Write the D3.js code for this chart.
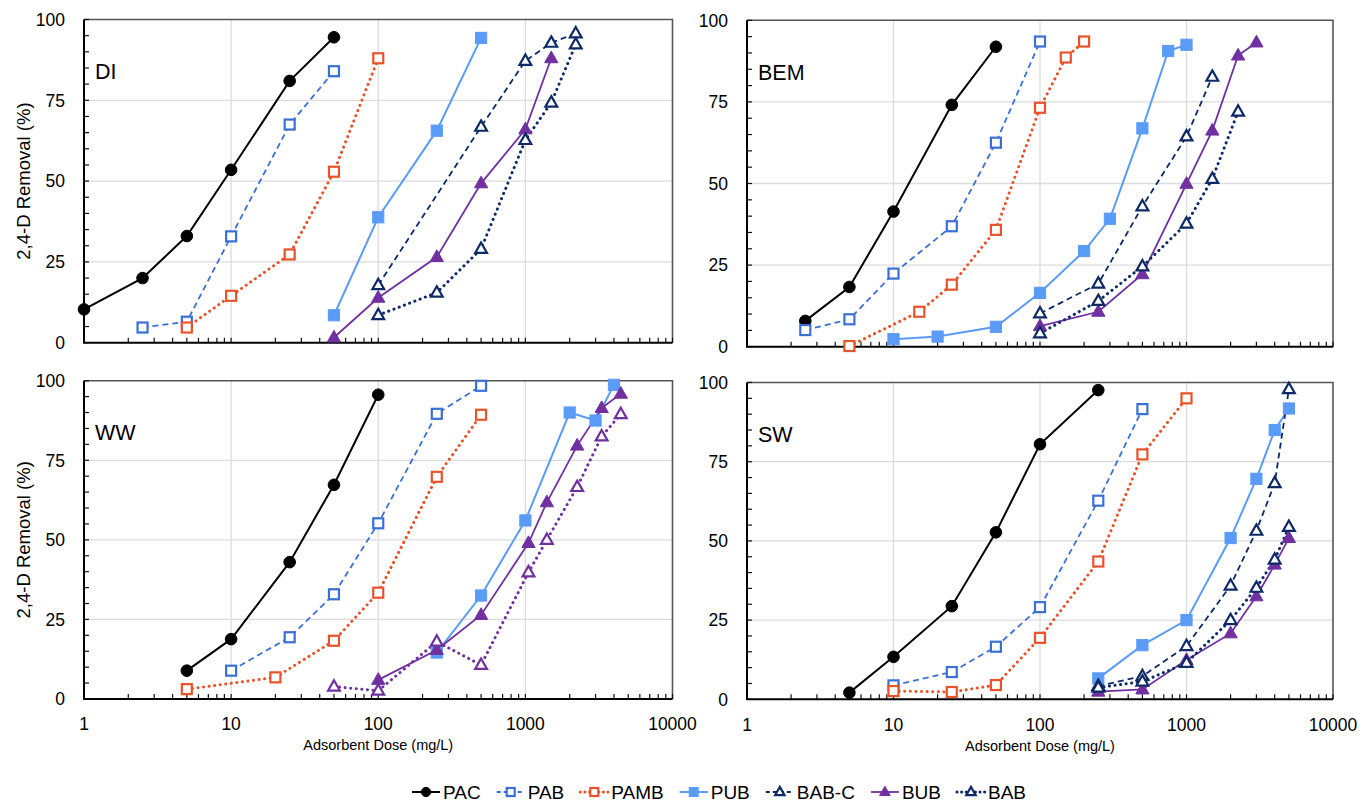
<!DOCTYPE html>
<html>
<head>
<meta charset="utf-8">
<script src="https://cdn.jsdelivr.net/npm/d3@7"></script>
<style>
  html, body { margin: 0; padding: 0; background: #fff; }
  svg { display: block; font-family: "Liberation Sans", Arial, Helvetica, sans-serif; }
</style>
</head>
<body>
<svg id="chart" width="1362" height="803"></svg>
<script>
// ---------------- DATA ----------------
const seriesNames = ["PAC", "PAB", "PAMB", "PUB", "BAB-C", "BUB", "BAB"];
const panelNames = ["DI", "BEM", "WW", "SW"];
const xTicks = [1, 10, 100, 1000, 10000];
const xTickLabels = ["1", "10", "100", "1000", "10000"];
const yTicks = [0, 25, 50, 75, 100];
const yTickLabels = ["0", "25", "50", "75", "100"];

// [dose mg/L, removal %]
const DI_PAC  = [[1,10.3],[2.5,20],[5,33],[10,53.5],[25,81],[50,94.5]];
const DI_PAB  = [[2.5,4.7],[5,6.5],[10,32.9],[25,67.5],[50,84]];
const DI_PAMB = [[5,4.7],[10,14.5],[25,27.3],[50,52.9],[100,88]];
const DI_PUB  = [[50,8.5],[100,38.8],[250,65.6],[500,94.3]];
const DI_BABC = [[100,17.8],[500,66.8],[1000,87.2],[1500,92.8],[2200,95.7]];
const DI_BUB  = [[50,1.6],[100,13.9],[250,26.5],[500,49.3],[1000,66],[1500,88]];
const DI_BAB  = [[100,8.5],[250,15.5],[500,29],[1000,62.7],[1500,74.3],[2200,92.3]];

const BEM_PAC  = [[2.5,7.9],[5,18.3],[10,41.4],[25,74.1],[50,91.9]];
const BEM_PAB  = [[2.5,5.1],[5,8.4],[10,22.4],[25,36.9],[50,62.5],[100,93.5]];
const BEM_PAMB = [[5,0.2],[15,10.7],[25,19],[50,35.8],[100,73.2],[150,88.6],[200,93.5]];
const BEM_PUB  = [[10,2.3],[20,3.1],[50,6.1],[100,16.5],[200,29.3],[300,39.2],[500,66.9],[750,90.6],[1000,92.5]];
const BEM_BABC = [[100,10.2],[250,19.3],[500,43],[1000,64.4],[1500,82.7]];
const BEM_BUB  = [[100,6.3],[250,10.7],[500,22.2],[1000,49.9],[1500,66.2],[2250,89.2],[3000,93.2]];
const BEM_BAB  = [[100,4.1],[250,14],[500,24.6],[1000,37.7],[1500,51.4],[2250,72]];

const WW_PAC  = [[5,8.9],[10,18.8],[25,43],[50,67.3],[100,95.6]];
const WW_PAB  = [[10,8.9],[25,19.4],[50,32.9],[100,55.2],[250,89.6],[500,98.4]];
const WW_PAMB = [[5,3.1],[20,6.8],[50,18.3],[100,33.4],[250,69.8],[500,89.3]];
const WW_PUB  = [[250,14.6],[500,32.5],[1000,56.1],[2000,90],[3000,87.5],[4000,98.7]];
const WW_BUB  = [[100,6],[250,15.4],[500,26.4],[1050,49],[1400,61.8],[2250,79.6],[3300,91.4],[4450,95.9]];
const WW_BAB  = [[50,3.9],[100,2.6],[250,18],[500,10.7],[1050,39.8],[1400,50],[2250,66.6],[3300,82.5],[4450,89.5]];

const SW_PAC  = [[5,2.1],[10,13.4],[25,29.4],[50,52.7],[100,80.5],[250,97.6]];
const SW_PAB  = [[10,4.4],[25,8.6],[50,16.6],[100,29.1],[250,62.7],[500,91.6]];
const SW_PAMB = [[10,2.6],[25,2.3],[50,4.5],[100,19.4],[250,43.5],[500,77.3],[1000,95]];
const SW_PUB  = [[250,6.6],[500,17.1],[1000,25],[2000,50.9],[3000,69.6],[4000,85],[5000,91.8]];
const SW_BABC = [[250,4.2],[500,7.3],[1000,16.8],[2000,35.9],[3000,53.2],[4000,68.2],[5000,97.9]];
const SW_BUB  = [[250,2.4],[500,3.1],[1000,12.4],[2000,20.8],[3000,32.5],[4000,42.5],[5000,50.9]];
const SW_BAB  = [[250,3.7],[500,5.6],[1000,11.5],[2000,25],[3000,35.2],[4000,44.1],[5000,54.4]];

const panelData = {
  DI:  {"PAC": DI_PAC, "PAB": DI_PAB, "PAMB": DI_PAMB, "PUB": DI_PUB, "BAB-C": DI_BABC, "BUB": DI_BUB, "BAB": DI_BAB},
  BEM: {"PAC": BEM_PAC, "PAB": BEM_PAB, "PAMB": BEM_PAMB, "PUB": BEM_PUB, "BAB-C": BEM_BABC, "BUB": BEM_BUB, "BAB": BEM_BAB},
  WW:  {"PAC": WW_PAC, "PAB": WW_PAB, "PAMB": WW_PAMB, "PUB": WW_PUB, "BUB": WW_BUB, "BAB": WW_BAB},
  SW:  {"PAC": SW_PAC, "PAB": SW_PAB, "PAMB": SW_PAMB, "PUB": SW_PUB, "BAB-C": SW_BABC, "BUB": SW_BUB, "BAB": SW_BAB}
};

// ---------------- STYLES ----------------
const NAVY = "#0d2a66", PURPLE = "#7030a0";
const style = {
  "PAC":   {color: "#000000", dash: null,  width: 2.0, marker: "circle",   fill: true},
  "PAB":   {color: "#3a70d6", dash: "6,4", width: 1.8, marker: "square",   fill: false},
  "PAMB":  {color: "#e8532a", dash: "0.1,5.5", width: 3.0, cap: "round", marker: "square", fill: false},
  "PUB":   {color: "#5b9bf8", dash: null,  width: 2.0, marker: "square",   fill: true},
  "BAB-C": {color: NAVY,      dash: "6,4", width: 1.8, marker: "triangle", fill: false},
  "BUB":   {color: PURPLE,    dash: null,  width: 1.8, marker: "triangle", fill: true},
  "BAB":   {color: NAVY,      dash: "0.1,5.5", width: 3.0, cap: "round", marker: "triangle", fill: false}
};
const colorOverride = { WW: { "BAB": PURPLE } };

// panel boxes (layout)
const boxes = {
  DI:  {x0: 84,  x1: 672.5, y0: 19.5, y1: 342.7, xlab: false, ylab: true},
  BEM: {x0: 747, x1: 1333,  y0: 20.3, y1: 346.7, xlab: false, ylab: false},
  WW:  {x0: 84,  x1: 672.5, y0: 380.7, y1: 699,  xlab: true,  ylab: true},
  SW:  {x0: 747, x1: 1333,  y0: 382.5, y1: 699.3, xlab: true, ylab: false}
};

const svg = d3.select("#chart");

function drawMarker(g, type, x, y, color, filled, scaleF) {
  const s = scaleF || 1;
  if (type === "circle") {
    g.append("circle").attr("cx", x).attr("cy", y).attr("r", 5.8 * s)
      .attr("fill", color).attr("stroke", color).attr("stroke-width", 1);
  } else if (type === "square") {
    const h = filled ? 5.6 * s : 5.0 * s;
    g.append("rect").attr("x", x - h).attr("y", y - h).attr("width", 2 * h).attr("height", 2 * h)
      .attr("fill", filled ? color : "#fff").attr("stroke", color).attr("stroke-width", filled ? 1 : 2.2);
  } else {
    const r = filled ? 7.2 * s : 6.4 * s;
    const pts = [[x, y - r], [x + r * 0.92, y + r * 0.62], [x - r * 0.92, y + r * 0.62]];
    g.append("path").attr("d", "M" + pts.map(p => p.join(",")).join("L") + "Z")
      .attr("fill", filled ? color : "#fff").attr("stroke", color)
      .attr("stroke-width", filled ? 1 : 2.2).attr("stroke-linejoin", "miter");
  }
}

panelNames.forEach(pn => {
  const b = boxes[pn];
  const x = d3.scaleLog().domain([1, 10000]).range([b.x0, b.x1]);
  const y = d3.scaleLinear().domain([0, 100]).range([b.y1, b.y0]);
  const g = svg.append("g");

  // gridlines
  g.append("g").selectAll("line").data(xTicks.slice(1, -1)).join("line")
    .attr("x1", d => x(d)).attr("x2", d => x(d)).attr("y1", b.y0).attr("y2", b.y1)
    .attr("stroke", "#dcdcdc").attr("stroke-width", 1.3);
  g.append("g").selectAll("line").data(yTicks.slice(1, -1)).join("line")
    .attr("x1", b.x0).attr("x2", b.x1).attr("y1", d => y(d)).attr("y2", d => y(d))
    .attr("stroke", "#dcdcdc").attr("stroke-width", 1.3);

  // frame top/right
  g.append("path").attr("d", `M${b.x0},${b.y0}H${b.x1}V${b.y1}`)
    .attr("fill", "none").attr("stroke", "#555").attr("stroke-width", 1.6);

  // minor ticks x (inside)
  const xMinor = [];
  for (let dec = 1; dec < 10000; dec *= 10) for (let m = 1; m < 10; m++) xMinor.push(dec * m);
  xMinor.push(10000);
  g.append("g").selectAll("line").data(xMinor).join("line")
    .attr("x1", d => x(d)).attr("x2", d => x(d)).attr("y1", b.y1).attr("y2", b.y1 - 5)
    .attr("stroke", "#111").attr("stroke-width", 1.2);
  // minor ticks y (inside)
  const yMinor = d3.range(0, 101, 5);
  g.append("g").selectAll("line").data(yMinor).join("line")
    .attr("x1", b.x0).attr("x2", b.x0 + 5).attr("y1", d => y(d)).attr("y2", d => y(d))
    .attr("stroke", "#111").attr("stroke-width", 1.2);

  // axes lines
  g.append("path").attr("d", `M${b.x0},${b.y0}V${b.y1}H${b.x1}`)
    .attr("fill", "none").attr("stroke", "#000").attr("stroke-width", 2);

  // y tick labels
  g.append("g").selectAll("text").data(yTicks).join("text")
    .attr("x", b.x0 - 19).attr("y", d => y(d)).attr("dy", "0.36em")
    .attr("text-anchor", "end").attr("font-size", 17.5).attr("fill", "#000")
    .text((d, i) => yTickLabels[i]);

  if (b.xlab) {
    g.append("g").selectAll("text").data(xTicks).join("text")
      .attr("x", d => x(d)).attr("y", b.y1 + 25).attr("dy", "0.36em")
      .attr("text-anchor", "middle").attr("font-size", 17.5).attr("fill", "#000")
      .text((d, i) => xTickLabels[i]);
    g.append("text").attr("x", (b.x0 + b.x1) / 2).attr("y", b.y1 + 46).attr("dy", "0.36em")
      .attr("text-anchor", "middle").attr("font-size", 14.5).text("Adsorbent Dose (mg/L)");
  }
  if (b.ylab) {
    const cy = (b.y0 + b.y1) / 2;
    g.append("text").attr("transform", `translate(23,${cy}) rotate(-90)`).attr("dy", "0.36em")
      .attr("text-anchor", "middle").attr("font-size", 18.5).text("2,4-D Removal (%)");
  }

  // panel label
  g.append("text").attr("x", b.x0 + 11).attr("y", b.y0 + 52).attr("dy", "0.36em")
    .attr("font-size", 21.5).text(pn);

  // series
  const line = d3.line().x(d => x(d[0])).y(d => y(d[1]));
  seriesNames.forEach(sn => {
    const data = panelData[pn][sn];
    if (!data) return;
    const st = style[sn];
    const col = (colorOverride[pn] && colorOverride[pn][sn]) || st.color;
    g.append("path").datum(data).attr("d", line).attr("fill", "none")
      .attr("stroke", col).attr("stroke-width", st.width)
      .attr("stroke-dasharray", st.dash).attr("stroke-linecap", st.cap || "butt");
  });
  seriesNames.forEach(sn => {
    const data = panelData[pn][sn];
    if (!data) return;
    const st = style[sn];
    const col = (colorOverride[pn] && colorOverride[pn][sn]) || st.color;
    const mg = g.append("g");
    data.forEach(d => drawMarker(mg, st.marker, x(d[0]), y(d[1]), col, st.fill));
  });
});

// ---------------- LEGEND ----------------
const legend = svg.append("g");
const ly = 792;
const items = [];
seriesNames.forEach(sn => {
  const it = legend.append("g");
  const st = style[sn];
  it.append("line").attr("x1", 0).attr("x2", 28).attr("y1", 0).attr("y2", 0)
    .attr("stroke", st.color).attr("stroke-width", st.width)
    .attr("stroke-dasharray", st.dash ? (st.cap ? "0.1,4.5" : "4,3") : null)
    .attr("stroke-linecap", st.cap || "butt");
  drawMarker(it, st.marker, 14, 0, st.color, st.fill, 0.8);
  const t = it.append("text").attr("x", 31).attr("y", 0).attr("dy", "0.36em")
    .attr("font-size", 19).text(sn);
  const w = 31 + t.node().getComputedTextLength();
  items.push({g: it, w: w});
});
const gap = 16;
const total = d3.sum(items, d => d.w) + gap * (items.length - 1);
let start = 719 - total / 2;
items.forEach(d => { d.g.attr("transform", `translate(${start},${ly})`); start += d.w + gap; });
</script>
</body>
</html>
